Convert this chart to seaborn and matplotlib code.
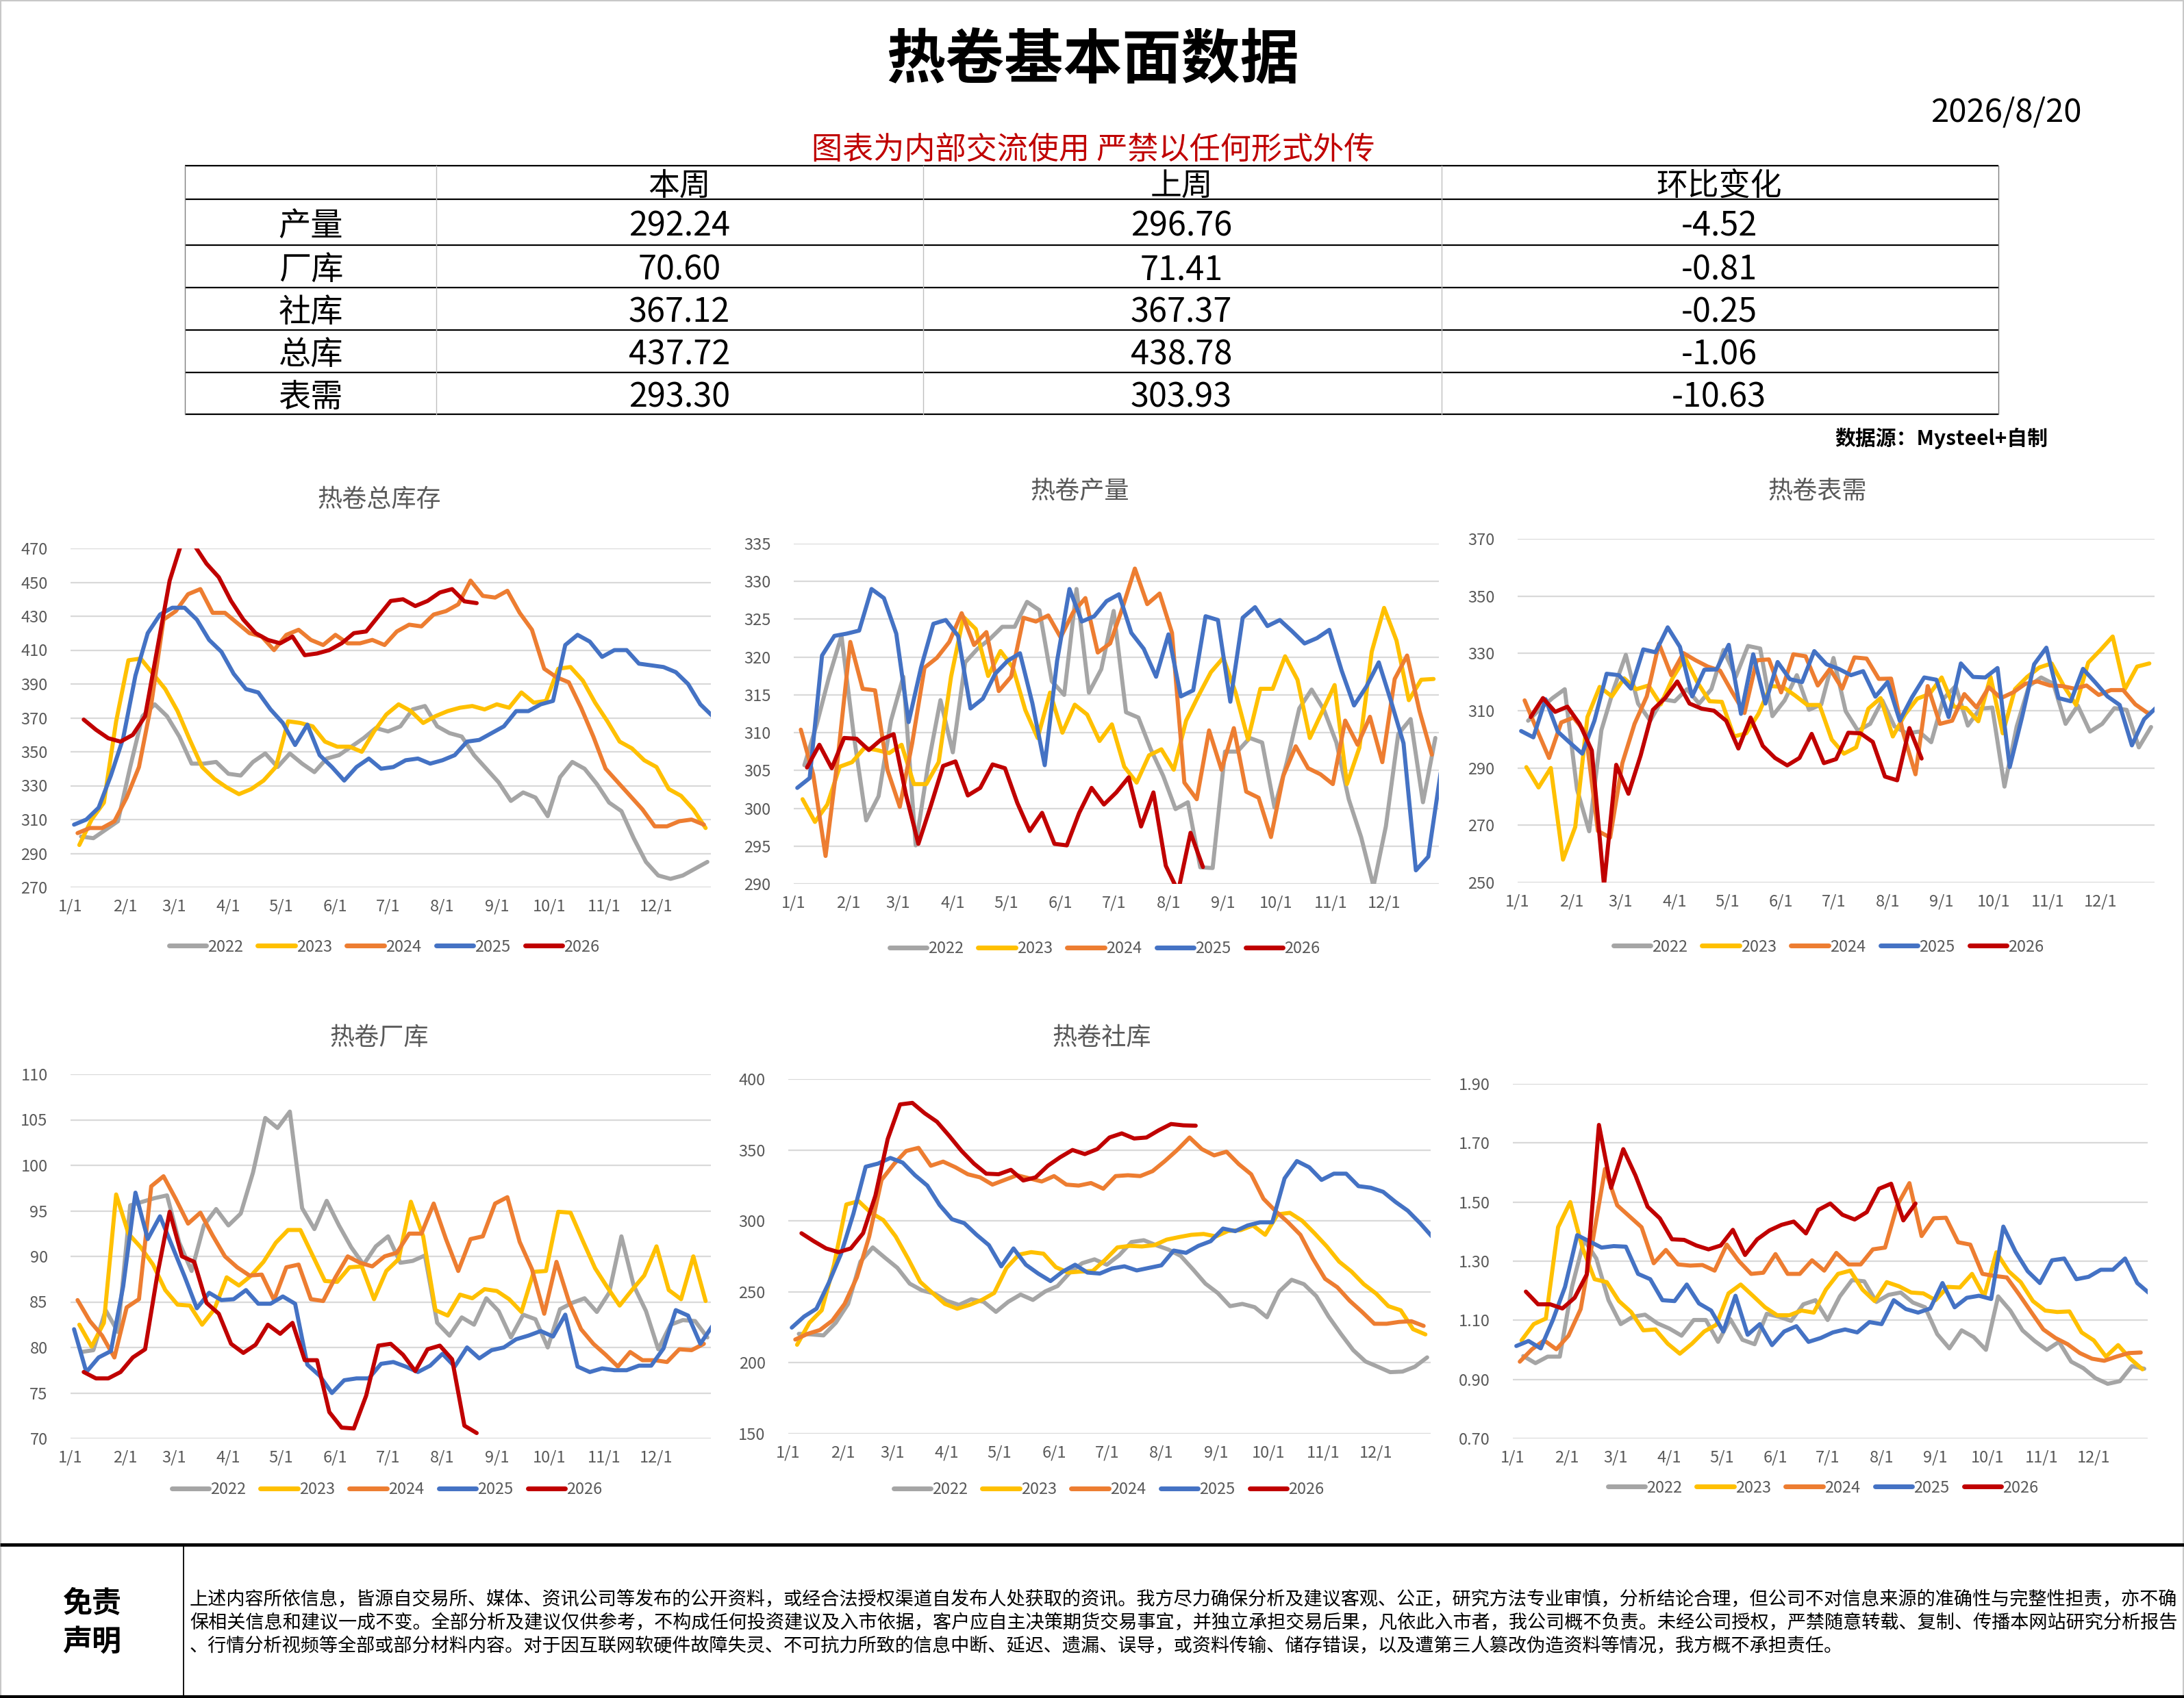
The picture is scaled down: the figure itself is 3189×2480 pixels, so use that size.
import numpy as np
import pandas as pd
import matplotlib
matplotlib.use("Agg")
import matplotlib.pyplot as plt
import seaborn as sns
from matplotlib.patches import Rectangle

# ---------------- data ----------------
YEARS = ["2022", "2023", "2024", "2025", "2026"]
START_DAY = {"2022": 6, "2023": 5, "2024": 4, "2025": 2, "2026": 7.5}
PALETTE = {"2022": "#A5A5A5", "2023": "#FFC000", "2024": "#ED7D31",
           "2025": "#4472C4", "2026": "#C00000"}
MONTH_DAYS = [0, 31, 59, 90, 120, 151, 181, 212, 243, 273, 304, 334]
MONTH_LABELS = ["1/1", "2/1", "3/1", "4/1", "5/1", "6/1", "7/1", "8/1", "9/1", "10/1", "11/1", "12/1"]

TABLE_ROWS = ["产量", "厂库", "社库", "总库", "表需"]
TABLE_HEAD = ["本周", "上周", "环比变化"]
THIS_WEEK = [292.24, 70.60, 367.12, 437.72, 293.30]
LAST_WEEK = [296.76, 71.41, 367.37, 438.78, 303.93]
WOW_CHANGE = [-4.52, -0.81, -0.25, -1.06, -10.63]

# 热卷总库存
total_2022 = [300,299,304,309,341,371,378,371,359,343,343,344,337,336,344,349,341,349,343,338,346,348,353,358,364,362,365,375,377,365,361,359,348,340,332,321,326,323,312,335,344,340,331,320,315,299,285,277,275,277,281,285]
total_2023 = [295,310,320,368,404,405,396,387,374,357,341,334,329,325,328,333,341,368,367,365,356,353,353,350,362,372,378,374,367,371,374,376,377,375,378,376,385,379,380,399,400,392,379,368,356,352,345,341,328,324,316,305]
total_2024 = [302,305,305,309,323,341,378,428,433,443,446,432,432,426,420,418,410,419,422,416,413,419,414,414,416,413,421,425,424,431,433,437,451,442,441,445,432,422,399,394,391,376,359,340,332,324,316,306,306,309,310,307]
total_2025 = [307,310,317,336,358,395,420,431,435,435,428,416,409,396,387,385,375,367,354,366,348,341,333,341,346,340,341,345,346,343,345,348,356,357,361,365,374,374,378,380,413,419,415,406,410,410,402,401,400,397,390,378,371]
total_2026 = [369,363,358,356,360,371,411,451,474,472,461,453,439,428,420,416,414,418,407,408,410,414,420,421,430,439,440,436,439,444,446,438.78,437.72]

# 热卷产量
output_2022 = [305.7,311.1,317.4,322.8,309.6,298.4,301.6,311.6,317.4,295.1,305.7,314.3,307.4,319.3,321.1,322.4,324,324,327.3,326.2,316.8,315,329,315.3,318.4,326.1,312.7,312,307.8,304.3,299.9,300.8,292.2,292.1,307.5,307.5,309.3,308.7,300.1,306.1,313.2,315.7,313,308.7,301.2,296.2,289.7,297.6,309.8,311.8,300.8,309.3]
output_2023 = [301.2,298.2,300.5,305.5,306.1,308,307.7,307.3,308.4,303.2,303.2,306.1,317.4,325.3,323.7,317.5,320.8,318.6,313,309.3,315.3,310,313.7,312.4,308.9,311.1,305.5,303.4,307,307.8,305.1,311.6,314.9,318,319.9,315.3,309.1,315.8,315.8,320.1,317,309.3,312.8,316.3,303.2,308,320.7,326.5,322.2,314.3,317,317.1]
output_2024 = [310.4,304.5,293.7,306.8,322,315.8,315.6,305.1,300.2,308.6,318.6,319.9,322,325.8,321.6,323.3,315.5,317.4,325.2,324.7,325.5,322.6,325.9,327.8,320.6,321.8,326.5,331.7,327,328.4,323.2,303.4,301.2,310.3,305.1,310.6,302.2,301.4,296.2,304.3,308.2,305.3,304.5,303.2,311.6,308.4,312.1,306.1,317.1,320.2,312.9,307.1]
output_2025 = [302.7,304,320.2,322.8,323.1,323.5,329,327.8,323.1,311.4,318.6,324.4,324.9,322.8,313.2,314.5,317.8,319.5,320.5,313.9,305.7,319.5,329,324.7,325.4,327.4,328.3,323.2,321.1,317.4,323,314.8,315.6,325.4,324.9,314.1,325.2,326.6,324.1,324.9,323.4,321.8,322.5,323.6,318.2,313.6,316.1,319.3,314.1,308.6,291.8,293.6,304.7]
output_2026 = [305.4,308.4,305.3,309.3,309.2,307.7,309.1,309.8,301.8,295.3,300.3,305.6,306.2,301.7,302.7,305.8,305.3,300.7,297,299.4,295.3,295.1,299.4,302.7,300.5,302.1,304.1,297.6,302.1,292.4,289,296.76,292.24]

# 热卷表需
demand_2022 = [306.5,310.7,314.4,317.5,282.6,267.9,303.2,317.5,329.5,312.5,306.5,314,313.3,317.5,312.5,317.5,331.2,321.8,332.6,331.7,308.1,313.6,322.4,310.3,312.2,328.4,309.8,303,305.4,313.6,304.5,302.1,302.7,299,314.2,318.6,304.8,310.7,311.1,283.5,304.5,318.6,321.6,319.4,305.4,311.8,302.7,305.4,310.9,310.3,297.2,304.3]
demand_2023 = [290.3,283.2,290,258,269.4,307.8,318.3,315,321.3,317.5,318.8,312.2,321.6,328.4,319.9,313.3,313.1,301,302.1,308.9,318.6,318.3,315.3,312,312,299.9,295,297.2,310.7,314.4,301,308.7,314.2,315.8,321.6,311.4,310.9,306.3,321.8,302.1,317.5,321.8,325.1,326.5,318.6,312,326.8,331.2,335.9,317.5,325.4,326.5]
demand_2024 = [313.6,303.4,293.5,305.9,307.6,302.3,268,265.7,291.7,305.4,315,333.4,322.4,330.1,327.6,325.4,324,316.4,309.2,327.6,327.9,316.4,329.7,329,318.8,324.6,317.7,328.6,328.2,321.1,321.2,302.1,287.8,318.6,305.4,306.5,315.8,311.1,318.2,314.4,316.4,319.4,320.2,318.8,318.6,317.7,318.8,315.5,317.2,317.2,312.2,309.2]
demand_2025 = [302.9,300.7,314,302.7,298.8,295,306.5,322.9,322.4,317.7,331.4,330.4,339.1,332.3,315,324.3,324.4,333,308.9,329.7,312.5,327,321,320,330.8,326.2,324.6,322.4,323.8,314.9,320,306.5,314.7,321.6,320.8,307.8,326.5,321.8,321.6,324.9,290.3,307.6,326.2,332,314.4,313.3,324.6,319.9,315,312,297.9,307,311.1]
demand_2026 = [307.8,314.4,309.6,311.4,305.4,296.1,249,291.1,281,294.4,310.3,314.4,320.2,312.5,310.7,310,306.5,296.8,307.6,297.7,293.5,290.9,293.5,301.9,291.7,293.1,302.3,302.1,299.1,287,285.7,303.93,293.30]

# 热卷厂库
mill_2022 = [79.5,79.7,84.1,81.7,95.6,96,96.4,96.7,91.5,88.4,93.4,95.2,93.4,94.7,99.2,105.2,104.1,105.9,95.3,93,96.1,93.4,91,89.1,91.1,92.2,89.3,89.5,90.1,82.7,81.3,83.3,82.5,85.4,84,81.1,83.6,83.1,80,84.2,84.9,85.4,83.9,86,92.2,86.8,84,79.8,82.5,83,82.9,81.1]
mill_2023 = [82.5,80.1,82.7,96.8,92.5,91,89.1,86.3,84.7,84.6,82.5,84.2,87.7,86.8,87.9,89.4,91.5,92.9,92.9,90.1,87.3,87.2,88.8,88.9,85.3,88.4,89.7,96,92.2,84.1,83.5,85.8,85.4,86.4,86.2,85.3,83.9,88.3,88.4,94.9,94.8,91.7,88.7,86.6,84.6,86.3,87.9,91.1,86.3,85.3,90,85.1]
mill_2024 = [85.2,82.9,81.3,78.9,84.4,85.3,97.7,98.8,96.3,93.6,94.8,92.3,90,88.8,87.9,88,85.2,88.8,89.1,85.3,85.1,87.7,90,89.3,88.9,90,90.4,92.5,92.5,95.8,91.9,88.4,91.9,92.2,95.8,96.5,91.6,88.6,83.7,89.4,85.1,82,80.4,79.2,77.9,79.5,78.6,78.6,78.4,79.8,79.7,80.4]
mill_2025 = [82,77.3,78.9,79.6,86.7,97,91.9,94.4,91.1,87.8,84.3,86,85.2,85.3,86.3,84.8,84.8,85.6,84.8,78.1,76.9,75,76.4,76.6,76.6,78.2,78.4,77.9,77.3,78,79.3,77.9,80,78.8,79.7,80,80.9,81.3,81.8,81.2,83.6,77.9,77.3,77.7,77.5,77.5,78,78,79.9,84.1,83.5,80.4,82.4]
mill_2026 = [77.3,76.6,76.6,77.3,78.9,79.8,88,94.9,90,89.4,84.9,83.7,80.4,79.4,80.3,82.5,81.5,82.7,78.6,78.6,72.9,71.2,71.1,74.7,80.2,80.4,79.2,77.4,79.8,80.2,78.7,71.41,70.60]

# 热卷社库
social_2022 = [220.4,220,219.3,228.2,241.5,271.3,281.3,274,266.9,255.8,251,248.8,243.7,240.8,244.8,243,235.9,243,248.1,244.3,250.3,254.1,263.6,270.2,272.9,269.1,275.8,285.1,286.4,282.9,279.8,275.3,265.8,255.8,249.2,239.9,241.5,239.2,232.1,250.3,258.5,255.4,247,232.6,220.4,208.9,200.9,197.2,193.4,193.8,197.2,203.8]
social_2023 = [212.7,228.2,237,269.1,311.6,313.9,305.7,300.6,289.1,273.6,257,249.2,241.5,238.1,240.8,244.3,249.2,266.9,276.2,278,276.9,267.4,263.6,264.3,264.7,272.5,281.3,282.4,282,282.9,286.8,288.6,290.2,290.8,289.1,293,293.5,296.8,290.2,304.6,305.7,300.1,291.3,282,271.3,264.3,255.4,248.8,239.9,237,223.7,220]
social_2024 = [216.4,220.4,223.1,229.7,241.5,260.3,289.1,328.9,340,349.3,351.5,338.9,341.8,337.8,332.9,330.7,325.6,328.9,332.2,330,327.8,331.6,325.6,324.9,326.7,322.7,331.6,332.2,331.6,335.1,342.2,350,358.8,350.6,346.2,348.8,340,332.9,315.6,306.8,299,290.2,273.6,259.2,253.2,243.7,235.9,227.5,227.5,228.8,229.3,226]
social_2025 = [224.8,232.6,238.1,256.3,276.9,305,338.2,340.4,344.4,341.1,332.2,324.9,311.2,301.2,298.4,290.2,282.9,268,280.6,269.1,262.9,257.6,264.3,269.1,263.6,262.9,266.5,268,265.1,266.9,268.7,279.1,277.5,282.4,285.7,294.6,292.8,296.8,299,299,330,342.2,337.8,328.9,333.3,333.3,324.5,323.4,320.5,313.4,307.2,298.4,288.6]
social_2026 = [291.3,285.7,280.6,278,280.6,291.3,317.8,357.7,382.1,383.2,375.9,369.9,359.9,349.3,340.4,333.3,332.9,336,328.5,330.7,338.9,344.9,350,347.1,350.6,358.8,361.7,358.1,358.8,363.9,368.3,367.37,367.12]

# 库存/表需 比值
ratio_2022 = [0.979,0.955,0.977,0.977,1.213,1.372,1.309,1.168,1.087,1.112,1.119,1.090,1.072,1.048,1.101,1.101,1.027,1.104,1.034,1.019,1.122,1.112,1.098,1.154,1.168,1.101,1.181,1.236,1.232,1.162,1.186,1.194,1.160,1.144,1.053,1.005,1.066,1.043,1.000,1.181,1.133,1.066,1.030,1.000,1.027,0.960,0.938,0.904,0.885,0.894,0.945,0.936]
ratio_2023 = [1.032,1.087,1.106,1.415,1.500,1.346,1.239,1.229,1.165,1.128,1.066,1.069,1.021,0.987,1.021,1.062,1.085,1.191,1.221,1.183,1.144,1.117,1.117,1.133,1.126,1.204,1.257,1.268,1.204,1.165,1.229,1.215,1.194,1.191,1.168,1.213,1.211,1.257,1.181,1.330,1.266,1.229,1.165,1.133,1.128,1.130,1.059,1.032,0.977,1.016,0.970,0.934]
ratio_2024 = [0.960,1.002,1.032,1.002,1.048,1.138,1.372,1.612,1.489,1.452,1.415,1.293,1.338,1.289,1.285,1.287,1.268,1.356,1.300,1.257,1.261,1.324,1.257,1.257,1.303,1.268,1.328,1.289,1.289,1.340,1.346,1.489,1.564,1.385,1.445,1.447,1.364,1.356,1.257,1.250,1.245,1.188,1.128,1.069,1.040,1.019,0.989,0.970,0.963,0.977,0.989,0.991]
ratio_2025 = [1.013,1.030,1.005,1.101,1.213,1.388,1.367,1.346,1.351,1.349,1.257,1.239,1.168,1.165,1.221,1.157,1.133,1.062,1.183,1.051,1.087,1.016,1.062,1.080,1.027,1.040,1.059,1.069,1.059,1.094,1.087,1.168,1.138,1.126,1.140,1.226,1.144,1.176,1.183,1.172,1.417,1.332,1.266,1.226,1.303,1.309,1.239,1.247,1.271,1.271,1.309,1.226,1.191]
ratio_2026 = [1.197,1.154,1.154,1.140,1.176,1.255,1.761,1.548,1.679,1.590,1.484,1.445,1.374,1.372,1.353,1.340,1.353,1.406,1.321,1.374,1.404,1.423,1.434,1.394,1.473,1.495,1.457,1.441,1.466,1.545,1.562,1.438,1.495]

DISCLAIMER_LINES = [
    "上述内容所依信息，皆源自交易所、媒体、资讯公司等发布的公开资料，或经合法授权渠道自发布人处获取的资讯。我方尽力确保分析及建议客观、公正，研究方法专业审慎，分析结论合理，但公司不对信息来源的准确性与完整性担责，亦不确",
    "保相关信息和建议一成不变。全部分析及建议仅供参考，不构成任何投资建议及入市依据，客户应自主决策期货交易事宜，并独立承担交易后果，凡依此入市者，我公司概不负责。未经公司授权，严禁随意转载、复制、传播本网站研究分析报告",
    "、行情分析视频等全部或部分材料内容。对于因互联网软硬件故障失灵、不可抗力所致的信息中断、延迟、遗漏、误导，或资料传输、储存错误，以及遭第三人篡改伪造资料等情况，我方概不承担责任。",
]

# ---------------- style ----------------
sns.set_theme(style="white")
plt.rcParams["font.family"] = ["Noto Sans CJK SC", "DejaVu Sans"]
plt.rcParams["axes.unicode_minus"] = False

W, H, DPI = 3189, 2480, 100
fig = plt.figure(figsize=(W / DPI, H / DPI), dpi=DPI)
fig.patch.set_facecolor("white")

bg = fig.add_axes([0, 0, 1, 1])
bg.set_xlim(0, W)
bg.set_ylim(H, 0)
bg.axis("off")
bg.add_patch(Rectangle((1, 1), W - 2, H - 2, fill=False, ec="#C8C8C8", lw=1.5))

# ---------------- header ----------------
bg.text(1596, 88, "热卷基本面数据", ha="center", va="center", fontsize=62,
        fontweight="bold", color="black")
bg.text(3040, 164, "2026/8/20", ha="right", va="center", fontsize=34, color="black")
bg.text(1596, 219, "图表为内部交流使用 严禁以任何形式外传", ha="center", va="center",
        fontsize=32.5, color="#C00000")

# table
tx0, tx1 = 270, 2918
row_lines = [242, 291, 358, 420, 482, 544, 605]
col_lines = [637, 1348, 2105]
for yy in row_lines:
    bg.plot([tx0, tx1], [yy, yy], color="black", lw=1.6, solid_capstyle="butt")
for xx in [tx0, tx1]:
    bg.plot([xx, xx], [row_lines[0], row_lines[-1]], color="#7F7F7F", lw=1.0)
for xx in col_lines:
    bg.plot([xx, xx], [row_lines[0], row_lines[-1]], color="#BFBFBF", lw=1.0)

col_centers = [992, 1725, 2510]
head_y = (row_lines[0] + row_lines[1]) / 2 + 5
for cx, h in zip(col_centers, TABLE_HEAD):
    bg.text(cx, head_y, h, ha="center", va="center", fontsize=33, color="black")
for i, name in enumerate(TABLE_ROWS):
    cy = (row_lines[i + 1] + row_lines[i + 2]) / 2 + 6
    bg.text(454, cy, name, ha="center", va="center", fontsize=34, color="black")
    vals = [f"{THIS_WEEK[i]:.2f}", f"{LAST_WEEK[i]:.2f}", f"{WOW_CHANGE[i]:.2f}"]
    for cx, v in zip(col_centers, vals):
        bg.text(cx, cy, v, ha="center", va="center", fontsize=35, color="black")

bg.text(2990, 640, "数据源：Mysteel+自制", ha="right", va="center", fontsize=21.5,
        fontweight="bold", color="black")

# ---------------- panels ----------------
def make_df(series):
    rows = []
    for yr in YEARS:
        vals = series[yr]
        days = START_DAY[yr] + 7 * np.arange(len(vals))
        rows.append(pd.DataFrame({"day": days, "value": vals, "year": yr}))
    return pd.concat(rows, ignore_index=True)


def panel(box, title, title_xy, series, yticks, fmt, legend_xy):
    l, t, r, b = box
    ax = fig.add_axes([l / W, 1 - b / H, (r - l) / W, (b - t) / H])
    df = make_df(series)
    sns.lineplot(data=df, x="day", y="value", hue="year", hue_order=YEARS,
                 palette=PALETTE, ax=ax, linewidth=4.3, estimator=None,
                 sort=False, legend=True)
    ax.set_xlim(0, 365)
    ax.set_ylim(yticks[0], yticks[-1])
    ax.set_xticks(MONTH_DAYS)
    ax.set_xticklabels(MONTH_LABELS)
    ax.set_yticks(yticks)
    ax.set_yticklabels([fmt.format(v) for v in yticks])
    ax.set_xlabel("")
    ax.set_ylabel("")
    ax.grid(axis="y", color="#D9D9D9", lw=1.6)
    ax.grid(axis="x", visible=False)
    for s in ax.spines.values():
        s.set_visible(False)
    ax.tick_params(axis="both", length=0, labelsize=17, colors="#595959")
    ax.tick_params(axis="y", pad=24)
    ax.tick_params(axis="x", pad=12)
    ax.set_facecolor("none")
    handles, labels = ax.get_legend_handles_labels()
    if ax.get_legend() is not None:
        ax.get_legend().remove()
    leg = fig.legend(handles, labels, loc="center",
                     bbox_to_anchor=(legend_xy[0] / W, 1 - legend_xy[1] / H),
                     ncol=5, frameon=False, fontsize=17, handlelength=2.3,
                     handletextpad=0.1, columnspacing=0.9)
    for h in leg.legend_handles:
        h.set_linewidth(5)
    for txt in leg.get_texts():
        txt.set_color("#595959")
    if title:
        bg.text(title_xy[0], title_xy[1], title, ha="center", va="center",
                fontsize=26, color="#595959")
    return ax


panel((103, 801, 1038, 1296), "热卷总库存", (554, 730),
      {"2022": total_2022, "2023": total_2023, "2024": total_2024,
       "2025": total_2025, "2026": total_2026},
      list(range(270, 471, 20)), "{:d}", (561, 1383))

panel((1159, 794, 2101, 1291), "热卷产量", (1577, 718),
      {"2022": output_2022, "2023": output_2023, "2024": output_2024,
       "2025": output_2025, "2026": output_2026},
      list(range(290, 336, 5)), "{:d}", (1613, 1386))

panel((2216, 787, 3146, 1289), "热卷表需", (2654, 718),
      {"2022": demand_2022, "2023": demand_2023, "2024": demand_2024,
       "2025": demand_2025, "2026": demand_2026},
      list(range(250, 371, 20)), "{:d}", (2670, 1383))

panel((103, 1569, 1038, 2101), "热卷厂库", (554, 1516),
      {"2022": mill_2022, "2023": mill_2023, "2024": mill_2024,
       "2025": mill_2025, "2026": mill_2026},
      list(range(70, 111, 5)), "{:d}", (565, 2176))

panel((1151, 1576, 2089, 2094), "热卷社库", (1609, 1516),
      {"2022": social_2022, "2023": social_2023, "2024": social_2024,
       "2025": social_2025, "2026": social_2026},
      list(range(150, 401, 50)), "{:d}", (1619, 2176))

panel((2209, 1583, 3136, 2101), None, None,
      {"2022": ratio_2022, "2023": ratio_2023, "2024": ratio_2024,
       "2025": ratio_2025, "2026": ratio_2026},
      [0.70, 0.90, 1.10, 1.30, 1.50, 1.70, 1.90], "{:.2f}", (2662, 2173))

# ---------------- disclaimer ----------------
bg.plot([0, W], [2256, 2256], color="black", lw=3.5, solid_capstyle="butt")
bg.plot([0, W], [2478, 2478], color="black", lw=3.0, solid_capstyle="butt")
bg.plot([268, 268], [2256, H], color="black", lw=1.3)
bg.text(134, 2342, "免责", ha="center", va="center", fontsize=31, fontweight="bold", color="black")
bg.text(134, 2398, "声明", ha="center", va="center", fontsize=31, fontweight="bold", color="black")

renderer = fig.canvas.get_renderer()
probe = bg.text(277, 2370, DISCLAIMER_LINES[1], ha="left", va="center", fontsize=20)
wpx = probe.get_window_extent(renderer).width
probe.remove()
dfs = 20 * 2905 / wpx
for yy, line in zip([2336, 2370, 2404], DISCLAIMER_LINES):
    bg.text(277, yy, line, ha="left", va="center", fontsize=dfs, color="black", clip_on=False)

fig.savefig("out.png", dpi=DPI, facecolor="white")
